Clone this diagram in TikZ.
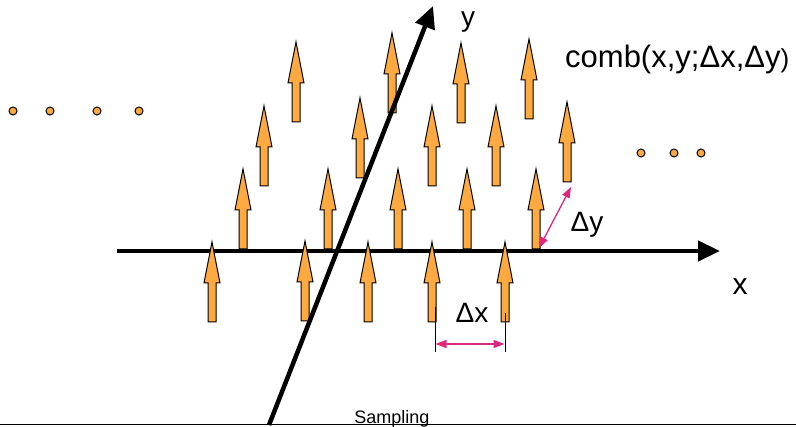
\documentclass[tikz,border=0pt]{standalone}
\usepackage{fontspec}
\setmainfont{Liberation Sans}
\usetikzlibrary{arrows.meta}
\definecolor{sorange}{RGB}{255,170,64}
\definecolor{smag}{RGB}{222,40,125}
\tikzset{
  samp/.pic={\filldraw[fill=sorange,draw=black,line width=1pt,line join=miter]
     (-4,0) -- (-4,-39) -- (-8,-39) -- (0,-80) -- (8,-39) -- (4,-39) -- (4,0) -- cycle;},
  dot/.style={circle,minimum size=8pt,inner sep=0pt,fill=sorange,draw=black,line width=1pt},
  axis/.style={line width=4.5pt,-{Triangle[length=22pt,width=20pt]}},
  magarrow/.style={draw=smag,line width=1.3pt,{Triangle[length=11pt,width=8pt]}-{Triangle[length=11pt,width=8pt]},smag},
  tick/.style={line width=1pt},
  lbl/.style={anchor=base,inner sep=0pt,font=\fontsize{28}{32}\selectfont},
}
\begin{document}
\begin{tikzpicture}[x=1pt,y=-1pt]
\useasboundingbox (0,0) rectangle (796,427);
% x axis
\coordinate (xs) at (117,251);
\coordinate (xe) at (720,251);
\draw[axis] (xs) -- (xe);
% sample arrows
\pic at (212,322) {samp};
\pic at (305,321) {samp};
\pic at (368,322) {samp};
\pic at (432,322) {samp};
\pic at (505,322) {samp};
\pic at (243,249) {samp};
\pic at (328,249) {samp};
\pic at (398,249) {samp};
\pic at (467,249) {samp};
\pic at (536,249) {samp};
\pic at (264,186) {samp};
\pic at (360,178) {samp};
\pic at (432,186) {samp};
\pic at (496,186) {samp};
\pic at (567,182) {samp};
\pic at (296,122) {samp};
\pic at (392,113) {samp};
\pic at (461,123) {samp};
\pic at (529,119) {samp};
% y axis
\coordinate (ys) at (269,425);
\coordinate (ye) at (433,6);
\draw[axis] (ys) -- (ye);
% dots
\node[dot] (l1) at (13,111) {};
\node[dot] (l2) at (50,111) {};
\node[dot] (l3) at (97,111) {};
\node[dot] (l4) at (139,111) {};
\node[dot] (r1) at (641,153) {};
\node[dot] (r2) at (674,153) {};
\node[dot] (r3) at (701,153) {};
% delta x
\coordinate (dxl1) at (435,307);
\coordinate (dxl2) at (435,352);
\coordinate (dxr1) at (505,313);
\coordinate (dxr2) at (505,352);
\draw[tick] (dxl1) -- (dxl2);
\draw[tick] (dxr1) -- (dxr2);
\coordinate (dxa) at (435.5,344);
\coordinate (dxb) at (504.5,344);
\draw[magarrow] (dxa) -- (dxb);
% delta y
\coordinate (dya) at (539,248);
\coordinate (dyb) at (571,187);
\draw[magarrow] (dya) -- (dyb);
% labels
\node[anchor=base west,inner sep=0pt,font=\fontsize{31}{35}\selectfont] (comb) at (565,68) {comb(x,y;Δx,Δy{\fontsize{26}{30}\selectfont)}};
\node[lbl] (ylab) at (468,27) {y};
\node[lbl,font=\fontsize{30}{34}\selectfont] (xlab) at (740,295) {x};
\node[lbl] (dylab) at (587,232) {Δy};
\node[lbl] (dxlab) at (472,323) {Δx};
\node[anchor=base,inner sep=0pt,font=\fontsize{18}{20}\selectfont] (samp) at (392,424) {Sampling};
\coordinate (bl) at (0,424.5);
\coordinate (br) at (796,424.5);
\draw[line width=0.8pt] (bl) -- (br);
\end{tikzpicture}
\end{document}
